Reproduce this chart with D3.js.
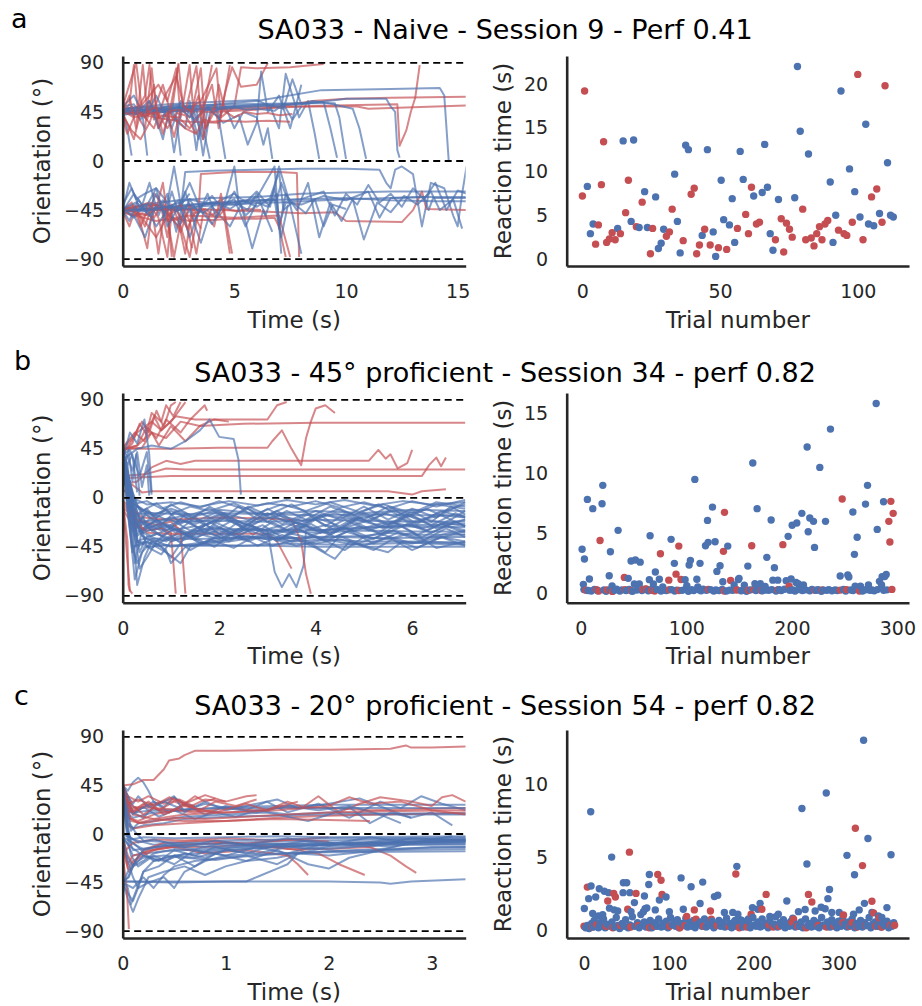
<!DOCTYPE html>
<html>
<head>
<meta charset="utf-8">
<script src="https://cdn.jsdelivr.net/npm/d3@7"></script>
<style>
body { margin: 0; background: #fff; }
text { font-family: "DejaVu Sans", sans-serif; }
</style>
</head>
<body>
<svg width="922" height="1006"></svg>
<script>
// ---------- data: orientation trajectories, [time (s), orientation (deg)] ----------
const trajRedA = [
  [[0,45],[0.3,52],[0.5,88],[0.7,40],[1.0,30],[1.3,85],[1.5,45],[1.9,50]],
  [[0,40],[0.2,25],[0.6,45],[1.0,60],[1.2,88],[1.4,38],[2.2,45],[2.5,90]],
  [[0,48],[0.8,50],[1.6,70],[2.0,55],[2.4,85],[2.6,40],[3.0,88],[3.2,35],[3.6,45],[4.0,88]],
  [[0,45],[1.5,44],[3.0,48],[3.5,55],[4.2,85],[4.4,40],[5.0,50],[5.3,86],[6.0,85],[7.5,86],[9.0,89]],
  [[0,44],[2,46],[4,45],[6,47],[7,50],[8.5,55],[10,57],[12,58],[15.4,59]],
  [[0,46],[3,47],[6,48],[8,50],[9.5,51],[12.3,52],[12.4,14],[12.7,28],[12.9,45],[13.1,58],[13.3,88]],
  [[0,45],[3,48],[7,50],[9,50],[10.5,50],[11,48],[15.4,51]],
  [[0,42],[0.4,28],[0.8,20],[1.2,35],[1.8,70],[2.2,40],[2.8,30],[3.3,25]],
  [[0,50],[0.6,90],[0.9,42],[1.4,30],[1.9,60],[2.4,78],[2.8,45],[3.3,87],[3.6,20],[3.9,40]],
  [[0,45],[1,42],[2,38],[3,36],[4.3,35],[4.6,64],[4.9,86],[5.3,68],[6.0,70],[6.5,90]],
  [[0,46],[2.5,40],[3,30],[3.5,44],[4.0,70],[4.3,30],[4.8,88]],
  [[0,44],[0.3,30],[0.5,20],[0.8,45],[1.1,38],[1.4,70],[1.6,30],[2.0,45],[2.3,22],[2.6,48],[3.0,40],[3.4,60],[3.7,30],[4.1,45],[4.3,70],[4.6,45],[5,40],[5.5,45],[6,43],[6.5,44],[7,42],[7.6,43]],
  [[0,46],[0.5,40],[1,42],[1.5,45],[2,30],[2.4,44],[2.8,42],[3.3,25],[3.6,38],[4.0,36],[4.5,37],[5.5,36],[6.5,37],[7.5,36]],
  [[0,45],[0.3,60],[0.6,30],[0.9,88],[1.1,45],[1.5,50],[1.8,25],[2.1,45],[2.5,88],[2.7,50],[3.1,45],[3.5,85],[3.7,30],[4.1,50]],
  [[0,-45],[0.5,-40],[1.0,-60],[1.3,-42],[1.6,-85],[1.9,-40],[2.3,-88],[2.7,-45],[3.1,-80]],
  [[0,-44],[1,-42],[1.7,-40],[2.0,-70],[2.2,-40],[2.6,-60],[3.0,-88],[3.4,-45],[4.0,-50],[4.5,-40],[4.9,-85]],
  [[0,-46],[0.3,-60],[0.6,-42],[1.1,-80],[1.4,-30],[2.0,-45],[2.2,-88]],
  [[0,-45],[2,-44],[3.4,-45],[3.5,-12],[5,-10],[7,-10],[7.8,-11],[7.9,-88]],
  [[0,-45],[3,-44],[6,-46],[8,-48],[9.5,-47],[10,-55],[12.5,-56],[13,-45],[13.4,-28],[13.6,-44],[15.4,-45]],
  [[0,-47],[1.5,-55],[3,-50],[5,-52],[7,-50],[7.5,-88]],
  [[0,-43],[0.8,-50],[1.5,-70],[2,-50],[2.5,-55],[2.8,-85],[3.1,-45],[3.5,-62]],
  [[0,-46],[0.4,-50],[0.9,-48],[1.4,-52],[1.7,-42],[2.0,-55],[2.5,-53],[3,-55],[3.5,-54],[4,-54],[5,-53],[6,-53],[6.8,-52],[7.0,-60],[7.3,-88]],
  [[0,-44],[0.6,-42],[1.2,-38],[2,-45],[2.6,-65],[3.0,-40],[3.3,-48],[3.7,-44],[4.2,-52],[4.6,-44],[5.1,-46],[5.6,-44],[6.2,-45]],
  [[0,-45],[0.4,-38],[0.8,-60],[1.2,-40],[1.6,-52],[2.0,-88],[2.2,-45],[2.6,-40],[3.0,-55],[3.3,-85],[3.6,-48]],
  [[0,-44],[0.5,-46],[1.0,-50],[1.5,-44],[1.8,-20],[2.0,-50],[2.4,-45],[2.9,-62],[3.2,-48],[3.6,-44],[4.1,-60],[4.4,-30],[4.8,-85]]
];
const trajBlueA = [
  [[0,45],[0.2,30],[0.4,5]],
  [[0,50],[0.5,52],[0.9,40],[1.1,5]],
  [[0,42],[0.6,45],[1.2,55],[1.5,40],[1.8,20],[2.1,48],[2.4,40],[2.6,5]],
  [[0,46],[1,50],[2,47],[2.8,30],[3.0,55],[3.3,10],[3.5,40],[3.9,2]],
  [[0,44],[1.5,48],[2.6,52],[3.2,45],[3.6,20],[3.8,48],[4.3,40],[4.6,50],[5.0,30],[5.4,45],[6.0,40],[6.3,15],[6.5,30],[6.7,2]],
  [[0,48],[2,52],[4,54],[6,56],[6.6,50],[7.0,30],[7.3,80],[7.6,60],[7.9,40],[8.3,55],[8.6,25],[8.8,2]],
  [[0,45],[3,50],[6,55],[8.9,65],[12,66],[14.2,67],[14.4,60],[14.6,0]],
  [[0,43],[4,47],[6,50],[8,52],[10,57],[11.8,57],[12.0,50],[12.2,45],[12.3,10],[12.4,3]],
  [[0,47],[2,50],[5,52],[8,53],[9.5,53],[9.7,40],[10,2]],
  [[0,45],[3,49],[6,51],[9,54],[10.3,48],[10.6,30],[10.9,2]],
  [[0,50],[0.5,60],[1,40],[1.5,60],[2.2,30],[2.6,55],[3.2,38],[3.8,50],[4.5,35],[5.2,42],[5.6,15],[6.0,35],[6.2,82],[6.5,45],[7.0,60],[7.5,30],[8.0,70]],
  [[0,44],[0.4,50],[0.8,38],[1.2,55],[1.6,30],[2.0,50],[2.3,8],[2.6,45],[3.0,50],[3.4,20],[3.7,48],[4.2,52],[4.6,2]],
  [[0,46],[0.5,42],[1.0,48],[1.8,45],[2.5,50],[3.0,40],[3.3,48],[3.6,5],[3.9,44],[4.4,48],[5,50],[5.5,47],[6,48],[6.8,46],[7.2,52],[7.6,38],[8,50]],
  [[0,45],[0.8,47],[1.6,46],[2.5,49],[3.5,48],[5,50],[6.5,52],[7.2,48],[7.6,75],[8.0,52],[8.5,55],[9,54],[9.3,30],[9.6,3]],
  [[0,-45],[0.3,-20],[0.6,-35],[1.0,-30],[1.5,-25],[2.0,-38],[2.3,-5],[2.6,-40],[3.0,-30]],
  [[0,-44],[1,-40],[2,-42],[3,-35],[4,-40],[5,-38],[6,-34],[6.8,-5],[7.0,-60],[7.3,-38],[8,-40],[9,-32],[10,-36],[11,-28],[11.5,-52],[12,-34],[13.5,-33],[15.4,-33]],
  [[0,-46],[1,-40],[2.5,-36],[4,-34],[6,-33],[8,-30],[10,-29],[12,-28],[15.4,-28]],
  [[0,-45],[2.6,-45],[2.8,-10],[4,-9],[6,-8],[8,-7],[10,-7],[11.5,-8],[11.8,-20],[12,-25],[12.2,-8],[12.5,-5],[13,-12],[13.4,-60],[13.8,-20],[14.4,-25],[14.8,-50],[15,-60],[15.2,-30],[15.4,-5]],
  [[0,-44],[0.5,-50],[1.0,-70],[1.5,-40],[2,-48],[2.5,-60],[3,-45],[3.5,-75],[4,-42],[4.8,-60],[5.3,-40],[5.8,-80],[6.3,-45],[6.7,-65]],
  [[0,-47],[1,-44],[3,-40],[5,-38],[6.8,-35],[7.0,-62],[7.3,-30],[7.8,-45],[8.3,-20],[8.8,-70],[9.3,-38],[9.8,-55],[10.3,-35],[10.8,-72],[11.4,-38],[12,-47],[12.6,-32],[13.2,-40],[13.8,-28],[14.2,-45],[14.8,-35],[15.2,-62]],
  [[0,-45],[2,-43],[4,-38],[6,-36],[8,-35],[10,-34],[12,-36],[14,-37],[15.4,-37]],
  [[0,-40],[0.4,-25],[0.8,-45],[1.2,-20],[1.6,-50],[2.0,-30],[2.4,-65],[2.8,-28],[3.2,-55],[3.6,-40],[4,-32],[4.5,-45],[5,-28],[5.5,-50],[6,-40]],
  [[0,-45],[3,-42],[5,-40],[6.5,-38],[7,-38],[9,-36],[10,-35],[12,-34],[13.5,-33],[13.7,-45],[13.9,-34],[15.4,-34]],
  [[0,-43],[0.5,-52],[1.0,-40],[1.5,-60],[2.0,-45],[2.5,-36],[3.0,-70],[3.5,-40],[4.2,-38],[5.0,-30],[5.5,-38],[6.0,-28],[6.6,-42],[7.0,-5],[7.5,-40],[8,-85]],
  [[0,-45],[0.3,-55],[0.7,-35],[1.1,-48],[1.5,-30],[1.9,-50],[2.2,-28],[2.6,-55],[3.0,-35],[3.4,-48],[3.8,-30],[4.2,-52],[4.6,-36],[5.0,-5],[5.2,-40],[5.6,-45],[6.0,-30],[6.4,-50],[6.8,-25],[7.1,-70],[7.4,-40]],
  [[0,-44],[0.6,-38],[1.2,-50],[1.8,-36],[2.4,-46],[3,-40],[3.6,-48],[4.2,-38],[4.8,-44],[5.4,-36],[6,-42],[6.6,-34],[7,-10],[7.2,-45],[7.6,-38],[8.2,-48],[8.6,-35],[9,-60],[9.4,-40],[10,-44]],
  [[0,-46],[0.5,-30],[1.0,-44],[1.5,-25],[2.0,-60],[2.5,-42],[3.0,-20],[3.5,-45],[4.0,-58],[4.5,-40],[5.0,-35],[5.5,-60],[6.0,-38],[6.5,-42],[6.9,-30],[7.1,-85]],
  [[0,-45],[1,-46],[2,-42],[3,-44],[4,-38],[5,-40],[6,-37],[6.9,-36],[7.1,-20],[7.4,-36],[8,-35],[9,-28],[9.5,-50],[10,-30],[10.5,-40],[11,-22],[11.5,-38],[12,-30],[12.5,-42],[13,-25],[13.5,-35],[14,-20],[14.5,-45],[15,-27],[15.4,-30]]
];

const trajRedB = [
  [[0,45],[0.3,48],[0.6,60],[0.9,55],[1.2,70],[1.6,66],[2.5,68],[4,69],[7.1,69]],
  [[0,12],[0.3,15],[0.6,28],[0.9,34],[1.2,31],[1.5,34],[2,34],[3,34],[4,34],[5.1,34],[5.3,44],[5.45,36],[5.55,40],[5.7,27],[5.9,32],[6.0,44]],
  [[0,20],[0.5,22],[0.9,27],[1.3,26],[2,26],[4,26],[5.5,26],[7.1,26]],
  [[0,18],[1,20],[3,20],[5,20],[6.2,20],[6.35,30],[6.5,37],[6.6,29],[6.7,37]],
  [[0,5],[0.2,12],[0.4,5],[0.6,6],[1.5,6],[3,6],[4.5,6],[5.5,6],[6,3],[6.2,6],[6.7,8]],
  [[0,45],[1,45],[2,46],[3,46],[3.1,52],[3.3,62],[3.5,45],[3.7,30],[3.8,55],[3.9,70],[4.0,82],[4.2,85],[4.4,78]],
  [[0,40],[0.3,60],[0.6,70],[0.8,62],[1.1,75],[1.5,72],[2.4,72],[3.0,72],[3.2,85],[3.4,88]],
  [[0,45],[0.2,55],[0.4,70],[0.55,60],[0.7,80],[0.85,65],[1.0,85],[1.1,88]],
  [[0,42],[0.2,50],[0.35,68],[0.5,58],[0.65,75],[0.8,62],[1.0,70],[1.3,88]],
  [[0,46],[0.25,60],[0.45,52],[0.6,78],[0.8,70],[0.9,85],[1.05,75],[1.2,88]],
  [[0,44],[0.3,48],[0.5,65],[0.7,55],[0.9,72],[1.2,60],[1.4,72],[1.7,85],[1.75,80]],
  [[0,45],[0.4,46],[0.6,60],[0.75,48],[1.0,66],[1.3,52],[1.6,66],[1.9,72],[2.2,70]],
  [[0,-5],[0.05,-30],[0.1,-60],[0.15,-85],[0.2,-88]],
  [[0,-2],[0.1,-40],[0.12,-80],[0.15,-86]],
  [[0,-10],[0.2,-25],[0.5,-30],[0.8,-28],[1.0,-32],[1.1,-88]],
  [[0,-5],[0.3,-20],[0.7,-25],[1.0,-22],[1.2,-30],[1.3,-88]],
  [[0,-8],[0.5,-32],[1.0,-33],[2.0,-33],[3.0,-33],[3.2,-40],[3.5,-65]],
  [[0,-3],[0.4,-18],[1,-20],[2,-18],[3,-19],[3.5,-20],[3.7,-40],[3.8,-70],[3.9,-88]]
];
const trajBlueB = [
  [[0,42],[0.1,10],[0.2,-20],[0.4,-30],[0.7,-25],[1.0,-35],[1.5,-30],[2,-28],[3,-30],[4,-32],[5,-30],[6,-31],[7.1,-31]],
  [[0,38],[0.15,-5],[0.3,-15],[0.5,-10],[0.8,-25],[1.1,-12],[1.4,-20],[1.8,-8],[2.2,-18],[2.6,-10],[3.0,-22],[3.4,-12],[3.8,-20],[4.3,-8],[4.8,-16],[5.3,-6],[5.8,-18],[6.3,-10],[6.8,-20],[7.1,-12]],
  [[0,44],[0.2,0],[0.3,-40],[0.6,-42],[1,-44],[2,-44],[3,-44],[4,-45],[5,-45],[6,-45],[7.1,-45]],
  [[0,40],[0.1,20],[0.2,-10],[0.35,-50],[0.5,-35],[0.9,-40],[1.2,-30],[1.6,-42],[2,-36],[2.5,-38],[3,-33],[3.5,-40],[4,-35],[4.6,-48],[5,-36],[5.5,-38],[6.0,-32],[6.5,-46],[7.1,-40]],
  [[0,43],[0.12,5],[0.25,-60],[0.4,-30],[0.7,-20],[1.0,-28],[1.3,-15],[1.7,-25],[2.1,-18],[2.5,-28],[2.9,-15],[3.3,-24],[3.8,-14],[4.2,-26],[4.6,-15],[5.1,-22],[5.6,-10],[6.1,-24],[6.6,-12],[7.1,-18]],
  [[0,36],[0.2,-8],[0.4,-22],[0.8,-20],[1.2,-22],[2,-21],[3,-22],[4,-20],[5,-21],[6,-22],[7.1,-22]],
  [[0,41],[0.18,-3],[0.3,-80],[0.45,-55],[0.6,-40],[0.8,-45],[1.0,-55],[1.3,-35],[1.7,-42],[2.1,-30],[2.5,-38],[3.0,-36],[3.5,-40],[4.2,-38],[5,-40],[6,-40],[7.1,-41]],
  [[0,44],[0.15,10],[0.25,-25],[0.5,-15],[0.9,-30],[1.3,-20],[1.7,-32],[2.1,-15],[2.5,-28],[3.0,-30],[3.15,-68],[3.3,-82],[3.45,-70],[3.6,-82],[3.75,-62],[3.8,-30],[4.2,-25],[4.8,-30],[5.5,-22],[6.2,-28],[7.1,-20]],
  [[0,39],[0.1,0],[0.2,-45],[0.5,-40],[0.9,-50],[1.2,-60],[1.4,-45],[1.8,-40],[2.2,-38],[2.6,-35],[3.0,-38],[3.5,-36],[4.0,-42],[4.5,-38],[5.0,-44],[5.5,-50],[5.8,-40],[6.3,-42],[7.1,-43]],
  [[0,45],[0.22,-2],[0.4,-12],[0.7,-5],[1.0,-15],[1.4,-8],[1.8,-12],[2.3,-5],[2.8,-14],[3.3,-6],[3.8,-12],[4.3,-4],[4.9,-13],[5.4,-6],[6.0,-14],[6.5,-4],[7.1,-8]],
  [[0,40],[0.1,15],[0.25,-35],[0.5,-25],[0.8,-35],[1.1,-28],[1.5,-38],[1.9,-26],[2.4,-34],[2.9,-25],[3.3,-36],[3.8,-26],[4.3,-34],[4.8,-22],[5.3,-32],[5.8,-20],[6.3,-30],[6.8,-20],[7.1,-26]],
  [[0,42],[0.2,-15],[0.45,-38],[0.9,-37],[1.5,-38],[2.5,-36],[3.5,-37],[4.5,-36],[5.5,-37],[6.5,-36],[7.1,-36]],
  [[0,37],[0.12,-10],[0.3,-28],[0.6,-18],[0.9,-10],[1.2,-24],[1.6,-14],[2.0,-22],[2.4,-8],[2.8,-20],[3.2,-12],[3.7,-26],[4.1,-16],[4.5,-28],[5.0,-16],[5.5,-25],[6.0,-12],[6.4,-22],[6.8,-8],[7.1,-15]],
  [[0,43],[0.15,0],[0.3,-20],[0.6,-30],[1.0,-25],[1.4,-33],[1.8,-27],[2.2,-30],[3,-29],[4,-30],[5,-27],[6,-26],[7.1,-27]],
  [[0,41],[0.25,-5],[0.5,-45],[0.8,-52],[1.0,-40],[1.4,-35],[1.9,-45],[2.3,-32],[2.8,-44],[3.3,-34],[3.9,-42],[4.2,-50],[4.5,-35],[5.0,-44],[5.5,-36],[6.0,-48],[6.5,-38],[7.1,-30]],
  [[0,40],[0.1,5],[0.18,-15],[0.3,-8],[0.6,-16],[1,-10],[1.5,-17],[2,-11],[3,-15],[4,-12],[5,-14],[6,-11],[7.1,-12]],
  [[0,44],[0.2,-10],[0.35,-30],[0.7,-20],[1.1,-32],[1.5,-18],[1.9,-30],[2.3,-20],[2.7,-34],[3.1,-22],[3.5,-32],[4.0,-20],[4.4,-30],[4.9,-18],[5.4,-28],[5.9,-16],[6.4,-25],[6.9,-14],[7.1,-18]],
  [[0,38],[0.15,-20],[0.3,-45],[0.6,-38],[1.0,-45],[1.5,-42],[2,-40],[2.5,-35],[3,-38],[4,-36],[5,-35],[5.5,-32],[6,-34],[7.1,-34]],
  [[0,42],[0.2,5],[0.3,-5],[0.5,-3],[0.8,-10],[1.2,-4],[1.6,-9],[2.0,-3],[2.5,-10],[3,-5],[3.5,-8],[4,-3],[4.5,-9],[5,-4],[5.5,-10],[6,-3],[6.5,-8],[7.1,-2]],
  [[0,45],[0.1,30],[0.2,-10],[0.4,-32],[0.9,-25],[1.4,-36],[1.8,-22],[2.3,-34],[2.7,-26],[3.2,-40],[3.6,-28],[4.1,-38],[4.6,-27],[5.2,-38],[5.7,-24],[6.2,-36],[6.7,-26],[7.1,-32]],
  [[0,40],[0.1,-5],[0.25,-75],[0.4,-50],[0.6,-40],[1,-38],[1.5,-30],[2,-35],[2.4,-22],[2.9,-30],[3.4,-24],[4,-30],[5,-28],[6,-25],[7.1,-24]],
  [[0,43],[0.12,20],[0.25,-2],[0.5,-25],[1.0,-18],[1.5,-24],[2.0,-15],[2.6,-25],[3.2,-16],[3.8,-22],[4.4,-14],[5.0,-22],[5.6,-12],[6.2,-20],[6.8,-10],[7.1,-6]],
  [[0,39],[0.2,-15],[0.4,-35],[0.7,-42],[0.9,-48],[1.0,-60],[1.1,-55],[1.3,-45],[1.8,-42],[2.2,-40],[2.5,-38]],
  [[0,44],[0.15,-8],[0.35,-20],[0.6,-30],[1.0,-40],[1.5,-32],[2.0,-38],[2.5,-28],[3.0,-36],[3.6,-44],[4.2,-38],[4.8,-43],[5.4,-34],[6.0,-42],[6.6,-36],[7.1,-40]],
  [[0,41],[0.2,0],[0.3,-25],[0.5,-12],[0.9,-20],[1.3,-16],[1.7,-22],[2.1,-14],[2.6,-20],[3.1,-18],[3.7,-24],[4.2,-16],[4.8,-20],[5.4,-14],[6.0,-22],[6.6,-16],[7.1,-18]],
  [[0,40],[0.1,-2],[0.2,-30],[0.4,-22],[0.8,-30],[1.2,-20],[1.6,-28],[2.0,-18],[2.5,-26],[3.0,-14],[3.5,-24],[4.0,-18],[4.5,-26],[5.0,-14],[5.5,-24],[6.0,-16],[6.5,-28],[7.1,-20]],
  [[0,43],[0.12,0],[0.3,-40],[0.7,-33],[1.2,-40],[1.7,-30],[2.2,-40],[2.7,-28],[3.2,-38],[3.7,-30],[4.2,-40],[4.7,-30],[5.2,-42],[5.7,-32],[6.2,-40],[6.7,-28],[7.1,-36]],
  [[0,41],[0.1,20],[0.2,-5],[0.4,-10],[0.7,-18],[1.0,-6],[1.4,-16],[1.8,-10],[2.2,-20],[2.6,-8],[3.0,-16],[3.5,-6],[4.0,-18],[4.5,-10],[5.0,-20],[5.5,-8],[6.0,-16],[6.5,-6],[7.1,-10]],
  [[0,44],[0.1,-10],[0.2,-45],[0.3,-60],[0.45,-45],[0.8,-44],[1.5,-43],[2.5,-44],[3.5,-42],[4.5,-43],[5.5,-42],[6.5,-41],[7.1,-42]],
  [[0,38],[0.2,-2],[0.35,-18],[0.6,-26],[1.0,-20],[1.4,-30],[1.9,-22],[2.4,-32],[2.9,-20],[3.4,-30],[3.9,-24],[4.4,-36],[4.9,-26],[5.4,-34],[5.9,-24],[6.4,-32],[6.9,-22],[7.1,-26]],
  [[0,42],[0.15,-5],[0.3,-35],[0.5,-28],[0.9,-24],[1.3,-34],[1.7,-24],[2.1,-36],[2.6,-24],[3.1,-34],[3.6,-22],[4.1,-32],[4.6,-20],[5.1,-30],[5.6,-22],[6.1,-34],[6.6,-24],[7.1,-30]],
  [[0,45],[0.1,5],[0.25,-15],[0.6,-14],[1.2,-15],[2,-14],[3,-15],[4,-16],[5,-15],[6,-16],[7.1,-16]],
  [[0,37],[0.1,-12],[0.2,-50],[0.3,-40],[0.6,-46],[1.0,-35],[1.4,-48],[1.8,-38],[2.3,-46],[2.7,-36],[3.1,-44],[3.6,-38],[4.0,-46],[4.4,-56],[4.7,-40],[5.2,-48],[5.6,-38],[6.1,-46],[6.6,-36],[7.1,-44]],
  [[0,44],[0.12,-2],[0.3,-8],[0.6,-20],[1.0,-12],[1.5,-22],[2.0,-12],[2.5,-24],[3.0,-10],[3.5,-22],[4.0,-12],[4.5,-20],[5.0,-8],[5.5,-20],[6.0,-10],[6.5,-18],[7.1,-4]],
  [[0,40],[0.15,-20],[0.3,-30],[0.6,-35],[1,-28],[1.5,-36],[2,-30],[2.6,-40],[3.2,-30],[3.8,-36],[4.4,-28],[5.0,-36],[5.6,-30],[6.2,-38],[6.8,-32],[7.1,-34]],
  [[0,42],[0.1,25],[0.18,-10],[0.35,-65],[0.5,-55],[0.7,-40],[1.0,-30],[1.5,-26],[2.1,-34],[2.6,-25],[3.2,-33],[3.7,-24],[4.3,-32],[5.0,-22],[5.6,-28],[6.3,-20],[7.1,-26]],
  [[0,39],[0.1,10],[0.2,0],[0.5,-6],[1.0,-4],[1.6,-8],[2.2,-3],[2.8,-7],[3.4,-2],[4.0,-6],[4.6,-2],[5.2,-7],[5.8,-3],[6.4,-6],[7.1,-4]],
  [[0,42],[0.1,30],[0.2,40],[0.3,5]],
  [[0,40],[0.15,44],[0.35,20],[0.5,42],[0.6,3]],
  [[0,35],[0.15,60],[0.3,50],[0.45,72],[0.55,40],[0.6,5]],
  [[0,45],[0.05,30],[0.12,44],[0.2,15],[0.28,40],[0.35,2]],
  [[0,44],[0.1,38],[0.2,25],[0.3,42],[0.4,10],[0.5,30],[0.55,2]],
  [[0,35],[0.3,45],[0.6,48],[1.0,45],[1.3,52],[1.6,62],[1.8,72],[2.0,56],[2.3,54],[2.4,35],[2.45,3]]
];

const trajRedC = [
  [[0,45],[0.1,46],[0.2,50],[0.3,50],[0.4,60],[0.45,68],[0.55,70],[0.6,73],[0.7,77],[1,77],[1.5,78],[2,78],[2.6,79],[2.75,82],[2.8,80],[3.0,80],[3.33,81]],
  [[0,45],[0.05,30],[0.1,20],[0.2,25],[0.3,28],[0.4,30],[0.5,33],[0.6,28],[0.7,35],[0.8,30],[0.9,33]],
  [[0,44],[0.05,15],[0.15,12],[0.3,18],[0.5,22],[0.7,20],[1.0,24],[1.3,22],[1.6,25],[2.0,24],[2.4,22],[2.8,23],[3.33,24]],
  [[0,45],[0.08,20],[0.2,28],[0.35,22],[0.5,30],[0.65,25],[0.8,32],[1.0,30],[1.2,35],[1.3,36]],
  [[0,43],[0.05,8],[0.1,5],[0.3,8],[0.6,10],[1,12],[1.5,15],[2,17],[2.5,18],[3,19],[3.33,20]],
  [[0,45],[0.1,25],[0.3,24],[0.6,22],[1,20],[1.4,22],[1.6,30],[1.75,25],[1.9,35],[2.1,20],[2.3,28],[2.5,34],[2.8,30],[3.0,26],[3.1,34],[3.2,36],[3.33,30]],
  [[0,44],[0.1,18],[0.3,14],[0.6,12],[1,12],[1.5,14],[2,13],[2.4,12]],
  [[0,45],[0.05,35],[0.15,30],[0.25,35],[0.4,28],[0.55,32],[0.7,25]],
  [[0,45],[0.08,12],[0.2,10],[0.5,15],[0.8,14],[1.2,16],[1.6,18],[2,20],[2.5,21],[3.33,22]],
  [[0,40],[0.1,20],[0.25,30],[0.4,18],[0.6,26],[0.9,20],[1.2,28],[1.4,22],[1.7,30]],
  [[0,42],[0.06,20],[0.12,25],[0.2,18],[0.3,24],[0.45,20],[0.6,28],[0.75,22],[0.9,30],[1.1,26],[1.3,32]],
  [[0,45],[0.05,28],[0.15,32],[0.3,26],[0.45,34],[0.6,28],[0.8,36],[1.0,30]],
  [[0,44],[0.07,15],[0.15,10],[0.3,14],[0.6,18],[1,20],[1.5,22],[2,26],[2.2,34],[2.4,28],[2.7,30],[3.0,22],[3.33,18]],
  [[0,-10],[0.03,-25],[0.06,-35],[0.1,-30],[0.15,-20],[0.25,-15],[0.5,-12],[0.8,-18],[1.2,-15],[1.6,-20],[1.7,-28],[1.8,-38]],
  [[0,-20],[0.04,-50],[0.06,-88]],
  [[0,-5],[0.05,-32],[0.1,-25],[0.3,-15],[0.6,-10],[1,-8],[1.5,-12],[1.9,-18],[2.1,-28],[2.35,-38]],
  [[0,-8],[0.05,-28],[0.1,-20],[0.4,-12],[0.8,-12],[1.2,-10],[1.6,-14],[2,-14],[2.4,-12],[2.6,-20],[2.75,-30],[2.85,-36]],
  [[0,-2],[0.03,-15],[0.1,-8],[0.3,-5],[0.6,-6],[1,-4],[1.5,-6],[2,-3]],
  [[0,-3],[0.05,-20],[0.1,-28],[0.2,-15],[0.4,-8],[0.8,-6],[1.2,-9],[1.6,-5],[2.0,-7]]
];
const trajBlueC = [
  [[0,45],[0.05,40],[0.1,48],[0.15,52],[0.2,48],[0.25,40],[0.3,30],[0.4,25],[0.5,34],[0.6,28],[0.7,26]],
  [[0,44],[0.03,20],[0.1,15],[0.3,20],[0.6,22],[1,25],[1.5,26],[2,27],[2.5,27],[3,27],[3.33,27]],
  [[0,43],[0.05,30],[0.15,22],[0.3,30],[0.45,20],[0.6,28],[0.8,18],[1.0,26],[1.2,22],[1.4,30],[1.6,20],[1.9,28],[2.2,15],[2.5,30],[2.7,24],[2.9,35],[3.1,28],[3.33,22]],
  [[0,45],[0.05,10],[0.1,5],[0.2,8],[0.4,10],[0.6,14],[1.0,16],[1.5,17],[2,18],[3,18],[3.33,18]],
  [[0,44],[0.05,35],[0.1,20],[0.2,15],[0.3,25],[0.5,35],[0.6,20],[0.8,30],[1.0,22],[1.3,28],[1.5,32],[1.7,24],[2.0,28],[2.3,33],[2.6,22],[2.8,15],[3.0,20],[3.2,8]],
  [[0,45],[0.02,42],[0.06,25],[0.1,20],[0.3,22],[0.6,23],[1,24],[2,24],[3,24],[3.33,24]],
  [[0,45],[0.08,3],[0.15,10],[0.3,12],[0.6,16],[1,18],[1.4,20],[1.8,12],[2.0,18],[2.2,25],[2.4,10],[2.6,20],[2.8,15]],
  [[0,44],[0.04,25],[0.1,18],[0.2,25],[0.35,16],[0.5,22],[0.7,14],[0.9,20],[1.1,16],[1.3,22],[1.6,18],[2,20],[2.5,19],[3.33,19]],
  [[0,45],[0.05,35],[0.1,28],[0.15,35],[0.25,25],[0.4,30],[0.6,22],[0.8,28],[1.0,24],[1.3,20],[1.6,26],[1.9,22],[2.2,26],[2.5,18],[2.7,10]],
  [[0,-45],[0.05,-55],[0.1,-62],[0.15,-50],[0.2,-35],[0.3,-25],[0.5,-20],[1,-15],[1.5,-12],[2,-10],[2.5,-8],[3,-6],[3.33,-6]],
  [[0,44],[0.03,10],[0.06,-5],[0.1,-15],[0.3,-12],[0.6,-10],[1,-8],[1.5,-7],[2,-6],[2.5,-5],[3.33,-5]],
  [[0,-2],[0.05,-10],[0.1,-20],[0.2,-18],[0.4,-16],[0.8,-14],[1.2,-12],[1.6,-11],[2,-10],[2.5,-9],[3.33,-8]],
  [[0,-45],[0.05,-60],[0.1,-72],[0.15,-60],[0.25,-40],[0.4,-35],[0.6,-30],[0.8,-38],[1,-30],[1.2,-25],[1.5,-22],[1.7,-18],[2,-20],[2.5,-15],[3,-12],[3.33,-12]],
  [[0,-3],[0.1,-8],[0.3,-25],[0.5,-20],[0.7,-30],[0.9,-18],[1.2,-25],[1.5,-15],[1.8,-28],[2.0,-32],[2.2,-22],[2.5,-15],[2.8,-8],[3.33,-5]],
  [[0,-44],[0.5,-44],[1.0,-44],[1.2,-44],[1.35,-38],[1.5,-32],[1.6,-28],[1.7,-18],[2,-16],[2.5,-14],[3.33,-12]],
  [[0,-44],[0.5,-45],[1,-44],[1.5,-44],[2,-44],[2.5,-45],[2.6,-46],[2.8,-44],[3.33,-42]],
  [[0,40],[0.04,0],[0.08,-20],[0.15,-30],[0.3,-20],[0.5,-28],[0.7,-15],[1,-20],[1.3,-12],[1.6,-18],[2,-8],[2.4,-12],[2.8,-4],[3.33,-6]],
  [[0,-5],[0.05,-25],[0.1,-40],[0.15,-50],[0.25,-45],[0.4,-40],[0.5,-50],[0.6,-35],[0.8,-25],[1,-20],[1.5,-18],[2,-17],[3.33,-16]],
  [[0,0],[0.1,-5],[0.3,-10],[0.6,-8],[1,-6],[1.5,-5],[2,-4],[2.5,-4],[3.33,-3]],
  [[0,-45],[0.05,-35],[0.1,-28],[0.2,-22],[0.4,-20],[0.6,-22],[0.9,-24],[1.2,-20],[1.5,-28],[1.7,-18],[2,-12],[2.5,-10],[3.33,-9]],
  [[0,45],[0.03,20],[0.06,-2],[0.15,-8],[0.3,-5],[0.6,-12],[0.9,-6],[1.2,-10],[1.6,-4],[2,-10],[2.4,-3],[2.8,-8],[3.2,-2]],
  [[0,-45],[0.1,-50],[0.2,-40],[0.3,-50],[0.4,-38],[0.5,-30],[0.7,-25],[1,-22],[1.3,-20],[1.6,-18],[2,-16],[2.5,-15],[3.33,-14]],
  [[0,-44],[0.05,-50],[0.08,-65],[0.12,-55],[0.2,-35],[0.35,-30],[0.5,-20],[0.7,-22],[1,-15],[1.5,-12],[2,-10],[3.33,-7]],
  [[0,42],[0.04,12],[0.08,-8],[0.2,-14],[0.5,-10],[0.9,-12],[1.4,-9],[1.9,-10],[2.4,-8],[3.33,-7]],
  [[0,45],[0.03,30],[0.07,10],[0.12,2],[0.2,-6],[0.5,-8],[1,-10],[1.5,-9],[2,-8],[2.5,-7],[3.33,-6]],
  [[0,-45],[0.05,-40],[0.1,-30],[0.2,-20],[0.35,-25],[0.5,-15],[0.7,-20],[0.9,-12],[1.2,-18],[1.5,-10],[1.8,-14],[2.2,-8],[2.6,-12],[3,-6],[3.33,-5]],
  [[0,-2],[0.04,-20],[0.1,-30],[0.2,-25],[0.3,-18],[0.5,-14],[0.8,-16],[1.1,-12],[1.5,-10],[2,-9],[2.6,-8],[3.33,-7]],
  [[0,-44],[0.06,-40],[0.12,-25],[0.2,-15],[0.4,-10],[0.7,-14],[1,-8],[1.4,-12],[1.8,-6],[2.2,-10],[2.6,-5],[3.33,-4]],
  [[0,-4],[0.08,-12],[0.2,-20],[0.4,-25],[0.6,-18],[0.8,-22],[1.0,-15],[1.3,-18],[1.6,-12],[2,-14],[2.5,-10],[3.33,-10]],
  [[0,45],[0.04,5],[0.08,-5],[0.2,-3],[0.5,-4],[1,-3],[1.5,-2],[2,-3],[3.33,-2]]
];

// ---------- data: reaction times, [trial number, reaction time (s)] ----------
const rtRedA = [[0,7.2],[0.8,19.2],[4.8,1.7],[5.8,3.9],[6.9,8.5],[7.7,13.4],[8.8,1.9],[9.8,2.3],[10.8,3.0],[11.9,2.2],[13.8,2.9],[15.7,5.3],[16.7,9.0],[19.6,3.7],[21.7,6.5],[24.7,0.6],[25.5,3.5],[30.5,2.6],[31.6,3.1],[32.6,5.7],[36.6,2.1],[39.5,7.4],[40.6,8.1],[41.5,0.6],[42.5,1.6],[44.4,3.4],[46.4,1.6],[49.4,1.3],[52.4,1.1],[56.3,3.5],[59.3,5.1],[60.3,2.9],[61.4,8.2],[63.2,4.0],[64.3,4.2],[70.1,2.2],[72.2,4.6],[73.1,0.8],[74.1,4.1],[75.2,3.4],[76.2,2.5],[80.0,5.7],[81.1,2.2],[83.1,2.4],[84.1,1.5],[85.1,2.9],[86.1,3.7],[87.0,2.2],[88.1,4.0],[89.1,4.4],[93.0,3.3],[95.0,2.9],[96.0,2.7],[98.0,4.2],[100.0,21.1],[101.9,2.2],[105.0,7.1],[106.9,8.0],[108.8,4.2],[109.9,19.8]];
const rtBlueA = [[1.8,8.3],[2.9,2.9],[3.9,4.0],[12.8,3.5],[14.8,13.5],[17.7,4.3],[18.6,13.6],[20.6,3.6],[22.6,7.7],[23.6,3.6],[26.6,7.1],[27.6,1.2],[28.6,1.8],[29.5,3.4],[33.5,9.7],[34.5,4.3],[35.5,0.7],[37.5,13.0],[38.5,12.5],[43.5,2.7],[45.4,12.5],[47.5,3.1],[48.4,0.3],[50.4,9.0],[51.3,4.5],[53.4,3.9],[54.4,6.9],[55.3,1.9],[57.3,12.3],[58.4,9.1],[62.2,7.2],[65.3,7.6],[66.2,13.1],[67.2,8.2],[68.2,2.9],[69.2,1.0],[71.2,6.8],[77.1,7.0],[78.1,22.0],[79.1,14.6],[82.1,12.0],[90.0,8.8],[91.0,1.9],[92.0,5.0],[93.9,19.2],[97.0,10.3],[98.9,7.7],[100.8,4.8],[102.9,15.4],[103.9,4.0],[105.8,3.8],[107.9,5.2],[110.8,11.0],[111.9,5.0],[112.9,4.8]];

const rtBlueB = [
  [1.3,3.67],[3.5,2.86],[2.5,0.75],[6.3,7.83],[8.2,1.2],[11.4,7.06],[20.9,9.0],[20.2,7.47],[27,1.47],[28.1,3.47],[29.7,0.61],[35.4,5.25],[45,1.25],[47.7,2.7],[51.8,2.78],[56.3,2.6],[50.8,0.78],[55.5,0.78],[65,1.14],[65.7,4.8],[68.8,0.78],[70.7,1.78],[74.5,1.17],[77.7,0.53],[85.6,4.5],[88.7,2.5],[98.9,1.14],[100.5,0.64],[102.7,2.36],[103.9,2.75],[108.1,9.5],[110,1.17],[110.9,0.53],[113,2.5],[118.2,3.97],[120.1,6.08],[120.7,4.25],[124.8,7.19],[127.3,4.3],[129,1.83],[132,2.3],[134.6,0.97],[139.3,3.94],[145.3,0.69],[149.4,1.15],[150,1.25],[155,0.67],[158.3,2.27],[163,10.86],[165,0.8],[167.1,7.06],[170.2,0.8],[174.7,0.58],[176.3,3.0],[180.4,6.11],[182,1.1],[183.5,2.14],[186.7,1.1],[194.6,1.06],[196.5,4.75],[199.3,1.2],[200.3,5.67],[204,0.9],[204.7,5.86],[206,0.8],[209.5,6.67],[211,0.7],[214.5,12.2],[215.5,5.14],[217,6.28],[220.5,6.0],[221.5,3.83],[226.5,10.5],[231.9,6.0],[236.6,13.69],[245.8,1.44],[253,1.53],[254,1.36],[257.8,6.78],[259.3,3.25],[260,0.6],[261.9,4.67],[265,0.6],[269.8,7.44],[271.7,9.0],[272.6,0.7],[279.9,15.83],[280.9,5.33],[283,1.0],[285,0.7],[285.5,1.39],[286.9,7.64],[288,1.4],[289.4,1.58],
  [3,0.31],[7,0.24],[10,0.19],[13,0.33],[16,0.22],[22,0.28],[24,0.17],[28,0.3],[32,0.26],[34,0.35],[37,0.2],[39,0.29],[43,0.23],[46,0.32],[49,0.18],[53,0.27],[58,0.24],[61,0.34],[64,0.21],[66,0.3],[69,0.26],[72,0.33],[76,0.19],[79,0.28],[81,0.23],[86,0.31],[89,0.2],[91,0.27],[96,0.25],[99,0.32],[102,0.18],[105,0.3],[107,0.24],[112,0.29],[114,0.21],[116,0.34],[119,0.26],[123,0.31],[126,0.19],[128,0.28],[131,0.23],[134,0.33],[138,0.2],[141,0.27],[144,0.25],[147,0.32],[152,0.22],[154,0.3],[157,0.18],[161,0.29],[166,0.24],[169,0.33],[172,0.21],[175,0.28],[178,0.26],[181,0.31],[185,0.2],[188,0.3],[190,0.23],[193,0.34],[198,0.25],[201,0.28],[203,0.19],[207,0.32],[210,0.24],[213,0.29],[217,0.21],[219,0.33],[223,0.26],[225,0.3],[228,0.18],[230,0.27],[233,0.25],[235,0.31],[238,0.22],[241,0.29],[243,0.24],[249,0.32],[251,0.2],[256,0.28],[258,0.23],[263,0.33],[267,0.19],[270,0.3],[274,0.26],[276,0.28],[278,0.22],[281,0.31],[287,0.25],[290,0.29]
];
const rtRedB = [
  [18.3,4.4],[41.3,1.33],[75.5,3.3],[83.4,1.1],[90.3,1.6],[92.9,3.94],[95,1.15],[135.2,3.5],[136.2,6.75],[142,1.08],[162,3.97],[191.5,4.06],[197.4,0.6],[247.7,7.86],[291.9,6.0],[292.9,4.28],[293.8,7.67],[296,6.67],[294.8,0.33],
  [5,0.26],[15,0.31],[17,0.2],[25,0.29],[30,0.16],[42,0.3],[48,0.21],[59,0.33],[62,0.36],[67,0.25],[70,0.19],[84,0.3],[93,0.24],[121,0.32],[136,0.2],[148,0.28],[159,0.26],[164,0.31],[171,0.23],[187,0.3],[222,0.25],[229,0.29],[246,0.27],[252,0.31],[264,0.2]
];

const rtBlueC = [
  [7.9,8.13],[0.4,1.52],[5.5,2.19],[8.3,3.05],[10.2,1.18],[13.8,2.3],[16.9,1.0],[18,2.87],[22,1.1],[24,2.7],[29,2.6],[30,1.54],[32.6,5.03],[35.7,1.42],[39.7,1.35],[46.4,3.28],[50.3,3.28],[46,2.6],[54,2.6],[55.4,1.29],[59.4,1.92],[70,1.29],[71.2,2.37],[72,1.5],[74,1.55],[76.3,3.16],[77,3.84],[84,1.42],[88.8,2.1],[96.7,2.3],[100.6,1.29],[114.4,3.61],[117,1.47],[126.2,3.0],[136.8,1.86],[139.9,3.32],[153.7,2.33],[157.6,2.42],[165.4,1.25],[175.3,1.25],[180.1,4.4],[181.3,1.13],[178,0.7],[186,0.7],[193.8,0.8],[198.5,1.58],[204.8,1.47],[207.5,1.87],[219,0.97],[229,1.13],[239,2.03],[252.7,1.3],[256.8,8.35],[260.6,1.45],[262.7,4.56],[272.4,1.35],[279.5,1.6],[284.2,1.5],[285.5,9.41],[287.4,2.19],[289.3,2.82],[292,1.25],[300.7,1.25],[309.9,5.15],[317.6,1.13],[318.8,3.82],[324.3,1.42],[329.5,13.02],[330.5,1.87],[334.6,6.3],[339.3,1.25],[347,1.0],[351,0.9],[357,1.58],[361.8,5.19],
  [2,0.2],[4,0.35],[6,0.15],[9,0.5],[11,0.25],[12,0.7],[14,0.3],[17,0.2],[19,0.55],[21,0.3],[23,0.8],[25,0.2],[27,0.45],[31,0.3],[33,0.6],[36,0.25],[38,0.9],[40,0.35],[42,0.15],[45,0.5],[47,0.3],[49,0.75],[52,0.2],[54,0.4],[57,0.95],[60,0.3],[63,0.55],[65,0.2],[67,1.1],[69,0.35],[71,0.6],[73,0.25],[76,0.45],[78,0.7],[80,0.2],[82,0.35],[84,0.55],[86,0.3],[88,0.8],[91,0.25],[93,0.5],[95,0.3],[97,0.65],[99,0.2],[102,0.9],[104,0.4],[106,0.6],[108,0.3],[110,0.75],[112,0.2],[115,0.5],[118,0.35],[120,0.85],[122,0.25],[124,0.55],[127,0.3],[129,0.7],[131,0.2],[134,0.45],[137,0.6],[139,0.3],[142,0.8],[144,0.25],[146,0.5],[148,0.35],[151,0.65],[153,0.2],[156,0.4],[159,0.7],[161,0.3],[163,0.55],[166,0.25],[168,0.85],[170,0.35],[172,0.5],[174,0.2],[177,0.6],[179,0.3],[182,0.45],[184,0.75],[187,0.25],[189,0.5],[191,0.35],[194,0.65],[196,0.2],[199,0.9],[201,0.4],[203,0.3],[205,0.6],[208,0.25],[210,0.8],[212,0.35],[215,0.5],[217,0.2],[219,0.7],[222,0.3],[224,0.45],[226,0.95],[228,0.25],[231,0.55],[233,0.35],[235,0.75],[237,0.2],[240,0.5],[242,0.3],[244,0.65],[246,0.85],[249,0.25],[251,0.45],[254,0.3],[256,0.6],[258,0.2],[261,0.8],[264,0.35],[266,0.5],[268,0.25],[271,0.7],[273,0.3],[275,0.55],[277,0.2],[280,0.9],[282,0.4],[284,0.3],[287,0.6],[290,0.25],[292,0.75],[294,0.35],[296,0.5],[298,0.2],[300,0.65],[303,0.3],[305,0.85],[307,0.45],[310,0.25],[312,0.6],[314,0.35],[316,0.8],[319,0.2],[321,0.5],[323,0.3],[326,0.7],[328,0.25],[331,0.55],[333,0.35],[336,0.9],[338,0.2],[340,0.45],[343,0.6],[346,0.3],[348,0.75],[350,0.25],[352,0.5],[354,0.35],[357,0.65],[359,0.2],[361,0.45],[363,0.3],[365,0.55]
];
const rtRedC = [
  [3.9,2.98],[0,0.3],[28,2.03],[35,2.55],[37,2.3],[51.5,1.47],[53.5,5.37],[61.3,2.55],[86.9,3.84],[90.8,3.45],[92,2.48],[121,0.97],[130,1.42],[132,0.79],[149,1.35],[150,0.79],[178.9,3.88],[197,1.13],[209.6,1.47],[214.6,2.48],[247,0.79],[264.5,2.48],[268.5,1.96],[305.8,1.08],[305,0.55],[316,0.55],[319.8,7.0],[328.2,4.45],[339.3,2.01],[341.2,1.22],[348,0.87],[361,0.37],[366,0.37],
  [10,0.25],[15,0.4],[26,0.3],[34,0.2],[43,0.35],[55,0.25],[64,0.35],[77,0.2],[83,0.3],[101,0.3],[113,0.2],[119,0.35],[141,0.3],[157,0.35],[171,0.3],[183,0.2],[192,0.25],[218,0.4],[223,0.25],[230,0.3],[245,0.6],[252,0.3],[262,0.2],[276,0.35],[286,0.25],[295,0.3],[313,0.3],[322,0.25],[332,0.35],[344,0.3],[351,0.25]
];

// tick labels
const timeTicksA = [0, 5, 10, 15], timeTicksB = [0, 2, 4, 6], timeTicksC = [0, 1, 2, 3];
const oriTicks = [-90, -45, 0, 45, 90];
const trialTicksA = [0, 50, 100], trialTicksBC = [0, 100, 200, 300];
const rtTicksA = [0, 5, 10, 15, 20], rtTicksB = [0, 5, 10, 15], rtTicksC = [0, 5, 10];
const titles = ["SA033 - Naive - Session 9 - Perf 0.41",
                "SA033 - 45° proficient - Session 34 - perf 0.82",
                "SA033 - 20° proficient - Session 54 - perf 0.82"];
const letters = ["a", "b", "c"];

// ---------- layout ----------
const RED = "#c44e52", BLUE = "#4c72b0", INK = "#262626";
const svg = d3.select("svg");
const leftX = [122.7, 465.7], rightX = [566.7, 909];
const fmt = d3.format("d");

const rows = [
  {top: 56, bottom: 266, titleY: 38.5, letterX: 11, letterY: 28,
   tMax: 15.36, tTicks: timeTicksA, red: trajRedA, blue: trajBlueA,
   nDom: [-5.7, 118.6], nTicks: trialTicksA, rtDom: [-0.8, 23.2], rtTicks: rtTicksA, rtRed: rtRedA, rtBlue: rtBlueA},
  {top: 393, bottom: 602.7, titleY: 381.5, letterX: 14, letterY: 370,
   tMax: 7.11, tTicks: timeTicksB, red: trajRedB, blue: trajBlueB,
   nDom: [-13.3, 311], nTicks: trialTicksBC, rtDom: [-0.78, 16.7], rtTicks: rtTicksB, rtRed: rtRedB, rtBlue: rtBlueB},
  {top: 730, bottom: 938, titleY: 715, letterX: 14, letterY: 705,
   tMax: 3.33, tTicks: timeTicksC, red: trajRedC, blue: trajBlueC,
   nDom: [-20.4, 383], nTicks: trialTicksBC, rtDom: [-0.5, 13.72], rtTicks: rtTicksC, rtRed: rtRedC, rtBlue: rtBlueC}
];

function styleAxis(g) {
  g.select(".domain").attr("stroke", INK).attr("stroke-width", 2.6);
  g.selectAll("text").attr("fill", INK).style("font-size", "19px")
    .style("font-family", "'DejaVu Sans', sans-serif");
}

function drawAxes(x, y, xTicks, yTicks, top, bottom, x0) {
  svg.append("g").attr("transform", "translate(0," + bottom + ")")
    .call(d3.axisBottom(x).tickValues(xTicks).tickFormat(fmt).tickSize(0).tickSizeOuter(0).tickPadding(19))
    .call(styleAxis);
  svg.append("g").attr("transform", "translate(" + x0 + ",0)")
    .call(d3.axisLeft(y).tickValues(yTicks).tickFormat(fmt).tickSize(0).tickSizeOuter(0).tickPadding(18.5))
    .call(styleAxis);
}

function label(x, y, txt, rotate) {
  svg.append("text").attr("x", x).attr("y", y)
    .attr("text-anchor", "middle").attr("fill", INK).style("font-size", "23px")
    .attr("transform", rotate ? "rotate(-90," + x + "," + y + ")" : null)
    .text(txt);
}

rows.forEach(function (r, i) {
  // title and panel letter
  svg.append("text").attr("x", 505).attr("y", r.titleY).attr("text-anchor", "middle")
    .style("font-size", "27px").attr("fill", "#000").text(titles[i]);
  svg.append("text").attr("x", r.letterX).attr("y", r.letterY)
    .style("font-size", "27px").attr("fill", "#000").text(letters[i]);

  // ----- trajectories -----
  const x = d3.scaleLinear().domain([0, r.tMax]).range(leftX);
  const y = d3.scaleLinear().domain([-96.3, 96.3]).range([r.bottom, r.top]);
  const clipId = "clip" + i;
  svg.append("clipPath").attr("id", clipId).append("rect")
    .attr("x", leftX[0]).attr("y", r.top).attr("width", leftX[1] - leftX[0]).attr("height", r.bottom - r.top);

  const line = d3.line().x(d => x(d[0])).y(d => y(d[1]));
  const trials = [];
  const n = Math.max(r.red.length, r.blue.length);
  for (let k = 0; k < n; k++) {
    if (k < r.blue.length) trials.push({pts: r.blue[k], c: BLUE});
    if (k < r.red.length) trials.push({pts: r.red[k], c: RED});
  }
  svg.append("g").attr("clip-path", "url(#" + clipId + ")")
    .selectAll("path").data(trials).enter().append("path")
    .attr("d", d => line(d.pts)).attr("fill", "none")
    .attr("stroke", d => d.c).attr("stroke-width", 2).attr("stroke-opacity", 0.68)
    .attr("stroke-linejoin", "round");

  svg.append("g").selectAll("line").data([90, 0, -90]).enter().append("line")
    .attr("x1", leftX[0]).attr("x2", leftX[1])
    .attr("y1", d => y(d)).attr("y2", d => y(d))
    .attr("stroke", "#000").attr("stroke-width", 1.8).attr("stroke-dasharray", "7,4.5");

  drawAxes(x, y, r.tTicks, oriTicks, r.top, r.bottom, leftX[0]);
  label((leftX[0] + leftX[1]) / 2, r.bottom + 61.5, "Time (s)");
  label(50, (r.top + r.bottom) / 2, "Orientation (°)", true);

  // ----- reaction times -----
  const xs = d3.scaleLinear().domain(r.nDom).range(rightX);
  const ys = d3.scaleLinear().domain(r.rtDom).range([r.bottom, r.top]);
  const dots = r.rtBlue.map(d => ({v: d, c: BLUE})).concat(r.rtRed.map(d => ({v: d, c: RED})))
    .sort((a, b) => a.v[0] - b.v[0]);
  svg.append("g").selectAll("circle").data(dots).enter().append("circle")
    .attr("cx", d => xs(d.v[0])).attr("cy", d => ys(d.v[1])).attr("r", 3.7)
    .attr("fill", d => d.c);

  drawAxes(xs, ys, r.nTicks, r.rtTicks, r.top, r.bottom, rightX[0]);
  label((rightX[0] + rightX[1]) / 2, r.bottom + 61.5, "Trial number");
  label(511, (r.top + r.bottom) / 2, "Reaction time (s)", true);
});
</script>
</body>
</html>
